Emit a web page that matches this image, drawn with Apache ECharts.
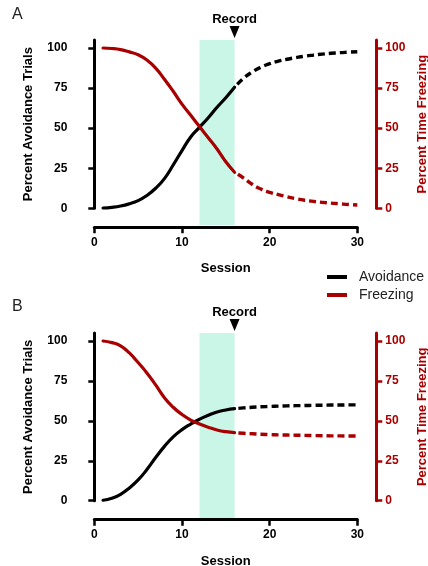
<!DOCTYPE html>
<html>
<head>
<meta charset="utf-8">
<script src="https://cdn.jsdelivr.net/npm/echarts@6/dist/echarts.min.js"></script>
<style>
  html, body { margin: 0; padding: 0; background: #fff; }
  #chart { width: 428px; height: 566px; }
</style>
</head>
<body>
<div id="chart"></div>
<script>
// sessions 1..30, solid = measured (1-16), dashed = projected (16-30)
const sessions = [1, 2, 3, 4, 5, 6, 7, 8, 9, 10, 11, 12, 13, 14, 15, 16, 17, 18, 19, 20, 21, 22, 23, 24, 25, 26, 27, 28, 29, 30]
// panel A
const avoidA = [0.2, 0.6, 1.4, 2.8, 4.8, 8, 12.5, 18.5, 27, 36, 44.5, 50.5, 56.5, 63, 69, 75.5, 81, 85, 88, 90.2, 91.8, 93, 94, 94.9, 95.6, 96.2, 96.7, 97.1, 97.4, 97.7]
const freezeA = [100, 99.7, 99, 97.6, 95.8, 92.5, 87.5, 80.5, 73, 65, 58, 51, 44, 37, 29, 22.5, 19, 15, 12, 10, 8.5, 7.2, 6, 5, 4.3, 3.7, 3.2, 2.8, 2.4, 2.1]
// panel B
const avoidB = [0.3, 1.5, 4, 8, 13, 19.5, 27, 34, 40, 44.5, 48, 51, 53.5, 55.5, 56.8, 57.6, 58.1, 58.5, 58.8, 59, 59.2, 59.4, 59.5, 59.6, 59.7, 59.8, 59.9, 59.9, 60, 60]
const freezeB = [100, 99, 97, 92.5, 86.5, 80, 72.5, 64.5, 58.5, 54, 50.5, 48, 46, 44.3, 43.2, 42.6, 42.2, 41.9, 41.6, 41.4, 41.2, 41.1, 41, 40.9, 40.8, 40.7, 40.6, 40.6, 40.5, 40.5]

const yTicks = [0, 25, 50, 75, 100]
const shadeRange = [12, 16]
const recordSession = 16
const lastMeasured = 16

const RED = '#a80000'
const FONT = 'Liberation Sans, Arial, sans-serif'

const chart = echarts.init(document.getElementById('chart'))

// layout for each panel (main grid + shaded band grid)
const panels = [
  { letter: 'A', letterTop: 7, top: 40, bottom: 357.7, shadeTop: 40, shadeBottom: 341, avoid: avoidA, freeze: freezeA },
  { letter: 'B', letterTop: 299, top: 333, bottom: 65.3, shadeTop: 333, shadeBottom: 48, avoid: avoidB, freeze: freezeB }
]

const pairs = (vals, from, to) =>
  sessions.slice(from, to).map((s, k) => [s, vals[from + k]])

const grid = []
const xAxis = []
const yAxis = []
const series = []

const labelStyle = { fontWeight: 'bold', fontSize: 12, fontFamily: FONT }
const nameStyle = { fontWeight: 'bold', fontSize: 13, fontFamily: FONT }

panels.forEach((p, i) => {
  grid.push({ left: 94.3, right: 70.7, top: p.top, bottom: p.bottom, outerBoundsMode: 'none', containLabel: false })
  grid.push({ left: 94.3, right: 70.7, top: p.shadeTop, bottom: p.shadeBottom, outerBoundsMode: 'none', containLabel: false })

  xAxis.push({
    gridIndex: 2 * i, type: 'value', min: 0, max: 30, interval: 10, offset: 19,
    axisLine: { onZero: false, lineStyle: { color: '#000', width: 3 } },
    axisTick: { length: 6, lineStyle: { color: '#000', width: 2.5 } },
    axisLabel: Object.assign({ color: '#000', margin: 9 }, labelStyle),
    splitLine: { show: false },
    name: 'Session', nameLocation: 'middle', nameGap: 35,
    nameTextStyle: Object.assign({ color: '#000' }, nameStyle)
  })
  xAxis.push({ gridIndex: 2 * i + 1, type: 'value', min: 0, max: 30, show: false })

  // left: avoidance
  yAxis.push({
    gridIndex: 2 * i, type: 'value', min: 0, max: 105, position: 'left', offset: 19,
    axisLine: { show: true, lineStyle: { color: '#000', width: 3 } },
    axisTick: { show: true, length: 6, customValues: yTicks, lineStyle: { color: '#000', width: 2.5 } },
    axisLabel: Object.assign({ color: '#000', margin: 8, customValues: yTicks }, labelStyle),
    splitLine: { show: false },
    name: 'Percent Avoidance Trials', nameLocation: 'middle', nameRotate: 90, nameGap: 40,
    nameTextStyle: Object.assign({ color: '#000' }, nameStyle)
  })
  // right: freezing
  yAxis.push({
    gridIndex: 2 * i, type: 'value', min: 0, max: 105, position: 'right', offset: 19,
    axisLine: { show: true, lineStyle: { color: RED, width: 3 } },
    axisTick: { show: true, length: 6, customValues: yTicks, lineStyle: { color: RED, width: 2.5 } },
    axisLabel: Object.assign({ color: RED, margin: 9, customValues: yTicks }, labelStyle),
    splitLine: { show: false },
    name: 'Percent Time Freezing', nameLocation: 'middle', nameRotate: 90, nameGap: 38,
    nameTextStyle: Object.assign({ color: RED }, nameStyle)
  })
  yAxis.push({ gridIndex: 2 * i + 1, type: 'value', min: 0, max: 1, show: false })

  // recording window
  series.push({
    type: 'line', xAxisIndex: 2 * i + 1, yAxisIndex: 3 * i + 2, data: [], z: 0, silent: true,
    markArea: {
      silent: true,
      itemStyle: { color: '#c9f6e6' },
      data: [[{ xAxis: shadeRange[0] }, { xAxis: shadeRange[1] }]]
    }
  })

  const line = (name, color, yIdx, data, dashed) => ({
    name, type: 'line', xAxisIndex: 2 * i, yAxisIndex: yIdx, data,
    color, showSymbol: false, symbol: 'none', smooth: 0.5, z: 3,
    lineStyle: dashed
      ? { color, width: 3.4, type: [7, 4], dashOffset: 7, join: 'round' }
      : { color, width: 3.2, join: 'round', cap: 'round' }
  })

  series.push(line('Avoidance', '#000', 3 * i, pairs(p.avoid, 0, lastMeasured), false))
  series.push(line('Avoidance projected', '#000', 3 * i, pairs(p.avoid, lastMeasured - 1, sessions.length), true))
  series.push(line('Freezing', RED, 3 * i + 1, pairs(p.freeze, 0, lastMeasured), false))
  series.push(line('Freezing projected', RED, 3 * i + 1, pairs(p.freeze, lastMeasured - 1, sessions.length), true))
})

chart.setOption({
  animation: false,
  textStyle: { fontFamily: FONT },
  title: panels.map(p => ({
    text: p.letter, left: 12, top: p.letterTop, padding: 0,
    textStyle: { fontSize: 16, fontWeight: 'normal', color: '#222', fontFamily: FONT }
  })),
  legend: {
    data: ['Avoidance', 'Freezing'],
    orient: 'vertical', left: 327, top: 269, padding: 0,
    icon: 'rect', itemWidth: 20, itemHeight: 4, itemGap: 2,
    textStyle: { fontSize: 14, color: '#222', lineHeight: 16, padding: [0, 0, 0, 7], fontFamily: FONT }
  },
  grid, xAxis, yAxis, series
})

// "Record" marker above the end of the recording window
const graphic = []
panels.forEach((p, i) => {
  const [px, py] = chart.convertToPixel({ xAxisIndex: 2 * i, yAxisIndex: 3 * i }, [recordSession, 105])
  graphic.push({
    type: 'polygon', silent: true,
    shape: { points: [[px - 5, py - 14], [px + 5, py - 14], [px, py - 2]] },
    style: { fill: '#000' }
  })
  graphic.push({
    type: 'text', silent: true, x: px, y: py - 21,
    style: { text: 'Record', fontSize: 13, fontWeight: 'bold', fontFamily: FONT, fill: '#000', align: 'center', verticalAlign: 'middle' }
  })
})
chart.setOption({ graphic })
</script>
</body>
</html>
